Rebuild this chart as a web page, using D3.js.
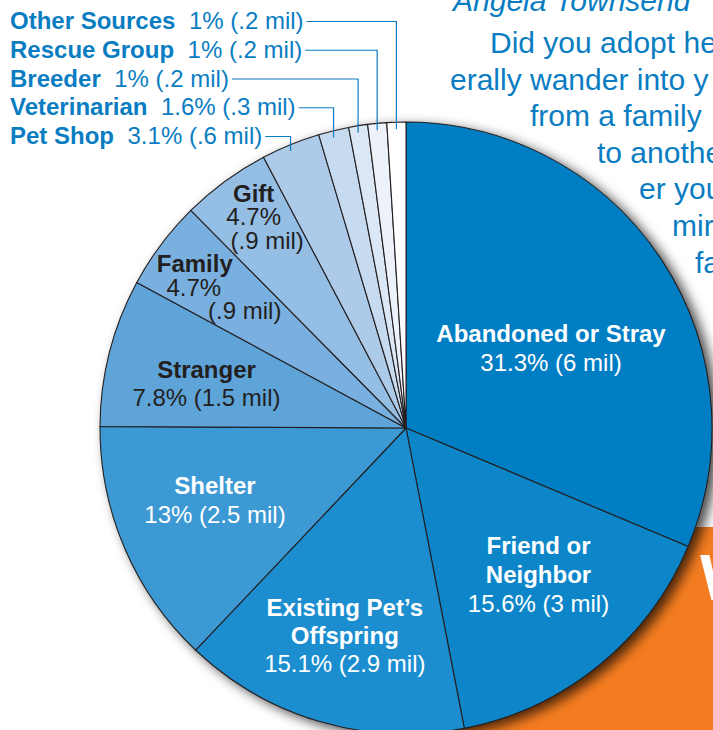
<!DOCTYPE html>
<html>
<head>
<meta charset="utf-8">
<script src="https://cdn.jsdelivr.net/npm/d3@7"></script>
<style>
 body { margin: 0; background: #fff; }
 svg { display: block; font-family: "Liberation Sans", Arial, sans-serif; }
</style>
</head>
<body>
<div id="chart"></div>
<script>
// where the pets came from, clockwise from 12 o'clock
var sources = ["Abandoned or Stray", "Friend or Neighbor", "Existing Pet’s Offspring", "Shelter",
               "Stranger", "Family", "Gift", "Pet Shop", "Veterinarian", "Breeder",
               "Rescue Group", "Other Sources"];
var percents = [31.3, 15.6, 15.1, 13, 7.8, 4.7, 4.7, 3.1, 1.6, 1, 1, 1];
var millions = [6, 3, 2.9, 2.5, 1.5, 0.9, 0.9, 0.6, 0.3, 0.2, 0.2, 0.2];

// body copy of the magazine page next to the chart
var bodyLines = ["Did you adopt he", "erally wander into y", "from a family", "to anothe", "er you", "mir", "fa"];

var sliceColors = ["#007ec4", "#0a86c9", "#1a8ecf", "#3d99d4", "#5ea4d9", "#7ab0df",
                   "#95bee5", "#aecae9", "#c6daf0", "#dce7f5", "#edf2fa", "#ffffff"];
var blue = "#0a7dc2", dark = "#231f20";

var data = sources.map(function(s, i) {
 return {name: s, pct: percents[i], mil: millions[i]};
});

function fmtMil(v) { return String(v).replace(/^0\./, "."); }

var width = 713, height = 730;
var cx = 406, cy = 428, R = 306;
var fs = 24;

var svg = d3.select("#chart")
 .append("svg")
 .attr("width", width)
 .attr("height", height);

var defs = svg.append("defs");
defs.append("filter")
 .attr("id", "shadow")
 .attr("x", "-20%").attr("y", "-20%").attr("width", "140%").attr("height", "140%")
 .append("feDropShadow")
 .attr("dx", 6).attr("dy", 4)
 .attr("stdDeviation", 6)
 .attr("flood-color", "#000")
 .attr("flood-opacity", 0.7);

// orange panel behind the pie
svg.append("rect")
 .attr("x", 430).attr("y", 527)
 .attr("width", width - 430).attr("height", height - 527)
 .attr("fill", "#f47c20");
svg.append("text")
 .attr("x", 700).attr("y", 600)
 .attr("font-size", 64).attr("font-weight", "bold")
 .attr("fill", "#fff")
 .text("W");

// article text
svg.append("text")
 .attr("x", 453).attr("y", 11)
 .attr("font-size", 30).attr("font-style", "italic")
 .attr("fill", blue)
 .text("Angela Townsend");

var bodyX = [490, 450, 530, 597, 639, 672, 695];
svg.append("g").selectAll("text")
 .data(bodyLines)
 .enter()
 .append("text")
 .attr("x", function(d, i) { return bodyX[i]; })
 .attr("y", function(d, i) { return 53 + i * 36.6; })
 .attr("font-size", 30)
 .attr("fill", blue)
 .text(function(d) { return d; });

// pie
var color = d3.scaleOrdinal().domain(sources).range(sliceColors);
var pie = d3.pie().sort(null).value(function(d) { return d.pct; });
var arcs = pie(data);
var arc = d3.arc().innerRadius(0).outerRadius(R);

var g = svg.append("g")
 .attr("transform", "translate(" + cx + "," + cy + ")");

g.append("g")
 .attr("filter", "url(#shadow)")
 .selectAll("path")
 .data(arcs)
 .enter()
 .append("path")
 .attr("d", arc)
 .attr("fill", function(d) { return color(d.data.name); })
 .attr("stroke", dark)
 .attr("stroke-width", 1.1)
 .attr("stroke-linejoin", "round");

// labels inside the big slices
var inside = [
 {r: 165.5, nudge: 4.8, lh: 29, brk: 3},
 {r: 198, nudge: -2.9, lh: 29, brk: 2},
 {r: 216.5, nudge: 0.2, lh: 28, brk: 2},
 {r: 204.3, nudge: 2.4, lh: 29, brk: 1},
 {r: 204.3, nudge: -1.9, lh: 28, brk: 2},
 {r: 253.8, nudge: -3.2, lh: 23.2, brk: 1, split: true, dx: [0, -1, 50]},
 {r: 260.3, nudge: 0.4, lh: 23.5, brk: 1, split: true, dx: [0, 0, 13.5]}
];

inside.forEach(function(L, i) {
 var a = arcs[i];
 var d = a.data;
 var mid = (a.startAngle + a.endAngle) / 2 + L.nudge * Math.PI / 180;
 var x = L.r * Math.sin(mid), y = -L.r * Math.cos(mid);
 var words = d.name.split(" ");
 var lines = [];
 if (i === 0) lines.push([d.name, true]);
 else {
   lines.push([words.slice(0, L.brk).join(" "), true]);
   if (words.length > L.brk) lines.push([words.slice(L.brk).join(" "), true]);
 }
 if (L.split) {
   lines.push([d.pct + "%", false]);
   lines.push(["(" + fmtMil(d.mil) + " mil)", false]);
 } else {
   lines.push([d.pct + "% (" + fmtMil(d.mil) + " mil)", false]);
 }
 var n = lines.length;
 var t = g.append("text")
  .attr("text-anchor", "middle")
  .attr("font-size", fs)
  .attr("fill", i < 4 ? "#fff" : dark);
 lines.forEach(function(ln, j) {
   t.append("tspan")
    .attr("x", x + (L.dx ? L.dx[j] : 0))
    .attr("y", y + (j - (n - 1) / 2) * L.lh + 8.3)
    .attr("font-weight", ln[1] ? "bold" : "normal")
    .text(ln[0]);
 });
});

// callout labels for the thin slices
var outer = arcs.slice(7);
outer.forEach(function(a) {
 var row = 11 - a.index;
 var base = 29 + row * 28.75;
 var t = svg.append("text")
  .attr("x", 10).attr("y", base)
  .attr("font-size", fs)
  .attr("fill", blue);
 t.append("tspan").attr("font-weight", "bold").text(a.data.name);
 t.append("tspan").attr("dx", 13.5)
  .text(a.data.pct + "% (" + fmtMil(a.data.mil) + " mil)");
 var end = t.node().getBBox();
 var mid = (a.startAngle + a.endAngle) / 2;
 var px = cx + R * Math.sin(mid);
 var py = cy - (R - 7) * Math.cos(mid);
 svg.append("path")
  .attr("d", "M" + (end.x + end.width + 3) + "," + (base - 7.5) +
             "H" + px + "V" + py)
  .attr("fill", "none")
  .attr("stroke", blue)
  .attr("stroke-width", 1.2);
});
</script>
</body>
</html>
